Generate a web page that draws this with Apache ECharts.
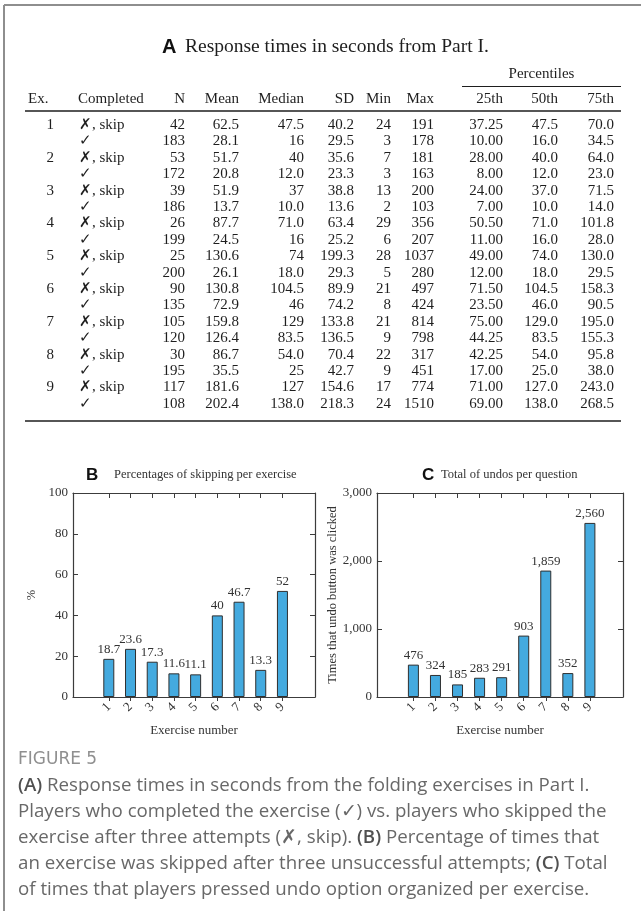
<!DOCTYPE html>
<html>
<head>
<meta charset="utf-8">
<script src="https://cdn.jsdelivr.net/npm/echarts@6/dist/echarts.min.js"></script>
<style>
  html, body { margin: 0; padding: 0; background: #ffffff; }
  #main { width: 641px; height: 911px; }
</style>
</head>
<body>
<div id="main"></div>
<script>
// ---- Table A: response times (seconds), two rows per exercise: skipped, completed ----
const exercises = [1, 2, 3, 4, 5, 6, 7, 8, 9];
const completedLabels = ['\u2717, skip', '\u2713'];
const tableHeaders = ['Ex.', 'Completed', 'N', 'Mean', 'Median', 'SD', 'Min', 'Max', '25th', '50th', '75th'];
const nValues = ['42', '183', '53', '172', '39', '186', '26', '199', '25', '200', '90', '135', '105', '120', '30', '195', '117', '108'];
const meanValues = ['62.5', '28.1', '51.7', '20.8', '51.9', '13.7', '87.7', '24.5', '130.6', '26.1', '130.8', '72.9', '159.8', '126.4', '86.7', '35.5', '181.6', '202.4'];
const medianValues = ['47.5', '16', '40', '12.0', '37', '10.0', '71.0', '16', '74', '18.0', '104.5', '46', '129', '83.5', '54.0', '25', '127', '138.0'];
const sdValues = ['40.2', '29.5', '35.6', '23.3', '38.8', '13.6', '63.4', '25.2', '199.3', '29.3', '89.9', '74.2', '133.8', '136.5', '70.4', '42.7', '154.6', '218.3'];
const minValues = ['24', '3', '7', '3', '13', '2', '29', '6', '28', '5', '21', '8', '21', '9', '22', '9', '17', '24'];
const maxValues = ['191', '178', '181', '163', '200', '103', '356', '207', '1037', '280', '497', '424', '814', '798', '317', '451', '774', '1510'];
const p25Values = ['37.25', '10.00', '28.00', '8.00', '24.00', '7.00', '50.50', '11.00', '49.00', '12.00', '71.50', '23.50', '75.00', '44.25', '42.25', '17.00', '71.00', '69.00'];
const p50Values = ['47.5', '16.0', '40.0', '12.0', '37.0', '10.0', '71.0', '16.0', '74.0', '18.0', '104.5', '46.0', '129.0', '83.5', '54.0', '25.0', '127.0', '138.0'];
const p75Values = ['70.0', '34.5', '64.0', '23.0', '71.5', '14.0', '101.8', '28.0', '130.0', '29.5', '158.3', '90.5', '195.0', '155.3', '95.8', '38.0', '243.0', '268.5'];

// ---- Panel B: percentage of skips per exercise ----
const skipPercent = [18.7, 23.6, 17.3, 11.6, 11.1, 40, 46.7, 13.3, 52];
// ---- Panel C: total undo clicks per exercise ----
const undoTotals = [476, 324, 185, 283, 291, 903, 1859, 352, 2560];

const SERIF = '"Liberation Serif", "Times New Roman", serif';
const SANS = '"Liberation Sans", Arial, sans-serif';
const CAPTION_FONT = '"Open Sans", "Noto Sans", sans-serif';
const INK = '#1e1e1e';
const AXIS = '#3c3c3c';
const BAR = '#44aadf';

function text(x, y, str, extra) {
  return {
    type: 'text', x: x, y: y, silent: true,
    style: Object.assign({
      text: str, font: '15px ' + SERIF, fill: INK,
      textAlign: 'left', textVerticalAlign: 'middle'
    }, extra || {})
  };
}
function hline(x1, x2, y, w, color) {
  return {
    type: 'line', silent: true,
    shape: { x1: x1, y1: y, x2: x2, y2: y },
    style: { stroke: color || INK, lineWidth: w || 1 }
  };
}

// table layout
const colRight = [185, 239, 304, 354, 391, 434, 503, 558, 614];
const dataColumns = [nValues, meanValues, medianValues, sdValues, minValues, maxValues, p25Values, p50Values, p75Values];
const tableLeft = 25, tableRight = 621;
const headerY = 99, firstRowY = 125, rowStep = 16.4;

const elements = [];
// frame
elements.push({ type: 'line', silent: true, shape: { x1: 4, y1: 5, x2: 641, y2: 5 }, style: { stroke: '#8e8e8e', lineWidth: 2 } });
elements.push({ type: 'line', silent: true, shape: { x1: 4, y1: 5, x2: 4, y2: 911 }, style: { stroke: '#8e8e8e', lineWidth: 2 } });

// table title
elements.push(text(162, 47, 'A', { font: 'bold 20px ' + SANS, fill: '#111' }));
elements.push(text(185, 47, 'Response times in seconds from Part I.', { font: '19.5px ' + SERIF }));

// percentiles group header
elements.push(text((462 + tableRight) / 2, 74, 'Percentiles', { textAlign: 'center' }));
elements.push(hline(462, tableRight, 86.5, 1.2));

// column headers
elements.push(text(28, headerY, tableHeaders[0]));
elements.push(text(78, headerY, tableHeaders[1]));
for (let c = 0; c < colRight.length; c++) {
  elements.push(text(colRight[c], headerY, tableHeaders[c + 2], { textAlign: 'right' }));
}
elements.push(hline(tableLeft, tableRight, 111, 1.5));

// body rows
for (let r = 0; r < nValues.length; r++) {
  const y = firstRowY + r * rowStep;
  if (r % 2 === 0) {
    elements.push(text(54, y, String(exercises[r / 2]), { textAlign: 'right' }));
  }
  elements.push(text(79, y, completedLabels[r % 2]));
  for (let c = 0; c < dataColumns.length; c++) {
    elements.push(text(colRight[c], y, dataColumns[c][r], { textAlign: 'right' }));
  }
}
elements.push(hline(tableLeft, tableRight, 421, 1.5));

// panel titles
elements.push(text(86, 475, 'B', { font: 'bold 17px ' + SANS, fill: '#111' }));
elements.push(text(114, 475, 'Percentages of skipping per exercise', { font: '12.5px ' + SERIF, fill: '#333' }));
elements.push(text(422, 475, 'C', { font: 'bold 17px ' + SANS, fill: '#111' }));
elements.push(text(441, 475, 'Total of undos per question', { font: '12.5px ' + SERIF, fill: '#333' }));

// caption
elements.push(text(18, 760, 'FIGURE 5', { font: '17px "DejaVu Sans", ' + CAPTION_FONT, fill: '#8f8f8f' }));
const captionLines = [
  '{b|(A)} Response times in seconds from the folding exercises in Part I.',
  'Players who completed the exercise (\u2713) vs. players who skipped the',
  'exercise after three attempts (\u2717, skip). {b|(B)} Percentage of times that',
  'an exercise was skipped after three unsuccessful attempts; {b|(C)} Total',
  'of times that players pressed undo option organized per exercise.'
];
captionLines.forEach(function (line, i) {
  elements.push(text(18, 786 + i * 26, line, {
    font: '18.7px ' + CAPTION_FONT, fill: '#686868',
    rich: { b: { fontWeight: 600, fontSize: 18.7, fontFamily: CAPTION_FONT, fill: '#505050' } }
  }));
});

// ---- bar panels ----
const axisLine = { show: true, onZero: false, lineStyle: { color: AXIS, width: 1.2 } };
const tickStyle = { color: AXIS, width: 1 };
const labelText = { fontFamily: SERIF, fontSize: 13, color: '#333' };

function xAxesFor(grid) {
  return [
    {
      type: 'value', gridIndex: grid, position: 'bottom', min: -0.65, max: 10.5,
      axisLine: axisLine,
      axisTick: { show: true, inside: false, length: 4, customValues: exercises, lineStyle: tickStyle },
      axisLabel: Object.assign({ customValues: exercises, rotate: 45, margin: 8 }, labelText),
      splitLine: { show: false },
      name: 'Exercise number', nameLocation: 'middle', nameGap: 27,
      nameTextStyle: { fontFamily: SERIF, fontSize: 13, color: '#333' }
    },
    {
      type: 'value', gridIndex: grid, position: 'top', min: -0.65, max: 10.5,
      axisLine: axisLine,
      axisTick: { show: true, inside: true, length: 5, customValues: exercises, lineStyle: tickStyle },
      axisLabel: { show: false },
      splitLine: { show: false }
    }
  ];
}
function yAxesFor(grid, max, interval, fmt, name, gap) {
  return [
    {
      type: 'value', gridIndex: grid, position: 'left', min: 0, max: max, interval: interval,
      axisLine: axisLine,
      axisTick: { show: true, inside: true, length: 5, lineStyle: tickStyle },
      axisLabel: Object.assign({ formatter: fmt, margin: 5 }, labelText),
      splitLine: { show: false },
      name: name, nameLocation: 'middle', nameGap: gap, nameRotate: 90,
      nameTextStyle: { fontFamily: SERIF, fontSize: 12.5, color: '#333' }
    },
    {
      type: 'value', gridIndex: grid, position: 'right', min: 0, max: max, interval: interval,
      axisLine: axisLine,
      axisTick: { show: true, inside: true, length: 5, lineStyle: tickStyle },
      axisLabel: { show: false },
      splitLine: { show: false }
    }
  ];
}
const thousands = function (v) { return Number(v).toLocaleString('en-US'); };

function barSeries(axisIdx, values, fmt) {
  return {
    type: 'bar', xAxisIndex: axisIdx, yAxisIndex: axisIdx,
    data: exercises.map(function (e, i) { return [e, values[i]]; }),
    barWidth: 11,
    itemStyle: { color: BAR, borderColor: '#2f2f2f', borderWidth: 1 },
    label: {
      show: true, position: 'top', distance: 3,
      fontFamily: SERIF, fontSize: 13, color: '#333',
      formatter: function (p) { return fmt(p.value[1]); }
    },
    silent: true, animation: false
  };
}

const option = {
  animation: false,
  backgroundColor: '#ffffff',
  grid: [
    { left: 73, top: 493, width: 242, height: 204 },
    { left: 377, top: 493, width: 246, height: 204 }
  ],
  xAxis: xAxesFor(0).concat(xAxesFor(1)),
  yAxis: yAxesFor(0, 100, 20, function (v) { return String(v); }, '%', 35)
    .concat(yAxesFor(1, 3000, 1000, thousands, 'Times that undo button was clicked', 38)),
  series: [
    barSeries(0, skipPercent, function (v) { return String(v); }),
    barSeries(2, undoTotals, thousands)
  ],
  graphic: { elements: elements }
};

const chart = echarts.init(document.getElementById('main'), null, { renderer: 'canvas' });
chart.setOption(option);
</script>
</body>
</html>
